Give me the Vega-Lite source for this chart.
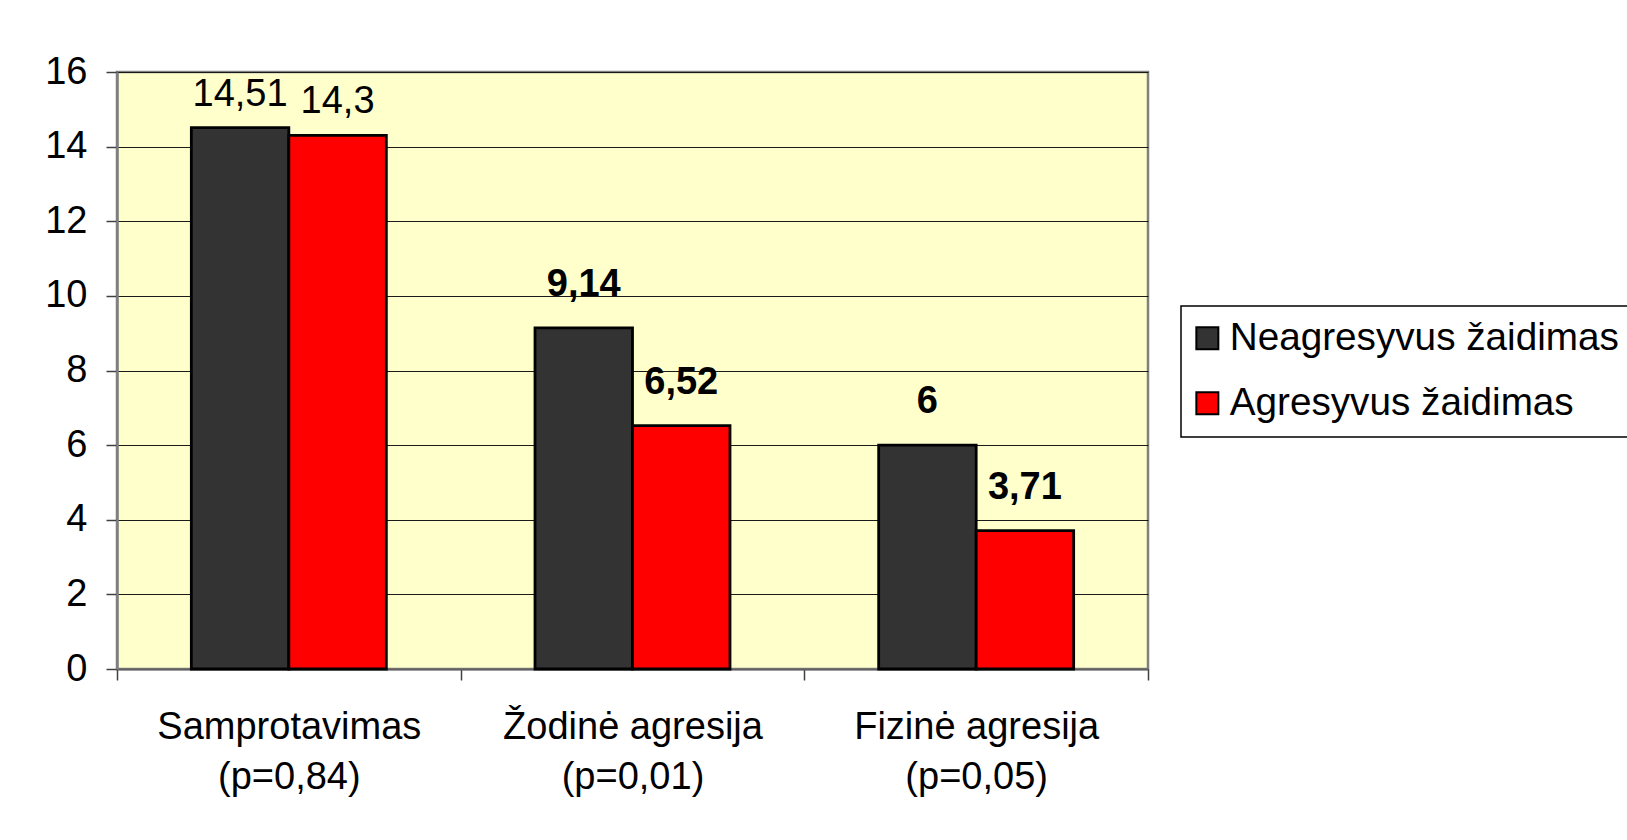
{
  "$schema": "https://vega.github.io/schema/vega-lite/v6.json",
  "width": 1031,
  "height": 597,
  "autosize": "none",
  "padding": {"left": 117, "top": 72, "right": 479, "bottom": 171},
  "background": "white",
  "data": {
    "values": [
      {"category": "Samprotavimas|(p=0,84)", "group": "Neagresyvus žaidimas", "value": 14.51, "label": "14,51"},
      {"category": "Samprotavimas|(p=0,84)", "group": "Agresyvus žaidimas", "value": 14.3, "label": "14,3"},
      {"category": "Žodinė agresija|(p=0,01)", "group": "Neagresyvus žaidimas", "value": 9.14, "label": "9,14"},
      {"category": "Žodinė agresija|(p=0,01)", "group": "Agresyvus žaidimas", "value": 6.52, "label": "6,52"},
      {"category": "Fizinė agresija|(p=0,05)", "group": "Neagresyvus žaidimas", "value": 6, "label": "6"},
      {"category": "Fizinė agresija|(p=0,05)", "group": "Agresyvus žaidimas", "value": 3.71, "label": "3,71"}
    ]
  },
  "encoding": {
    "x": {
      "field": "category",
      "type": "nominal",
      "sort": ["Samprotavimas|(p=0,84)", "Žodinė agresija|(p=0,01)", "Fizinė agresija|(p=0,05)"],
      "scale": {"paddingInner": 0, "paddingOuter": 0},
      "axis": {
        "title": null,
        "labelAngle": 0,
        "labelExpr": "split(datum.label, '|')",
        "labelLimit": 0,
        "labelLineHeight": 50,
        "labelPadding": 28,
        "tickSize": 11,
        "tickBand": "extent",
        "tickColor": "#404040",
        "tickWidth": 1.5,
        "domainColor": "#606060",
        "domainWidth": 2,
        "grid": false,
        "labelFontSize": 38
      }
    },
    "xOffset": {
      "field": "group",
      "type": "nominal",
      "sort": ["Neagresyvus žaidimas", "Agresyvus žaidimas"],
      "scale": {"paddingInner": 0, "paddingOuter": 0.7625}
    },
    "y": {
      "field": "value",
      "type": "quantitative",
      "scale": {"domain": [0, 16], "nice": false, "zero": true},
      "axis": {
        "title": null,
        "values": [0, 2, 4, 6, 8, 10, 12, 14, 16],
        "labelPadding": 19,
        "tickSize": 11,
        "tickColor": "#404040",
        "tickWidth": 1.5,
        "domainColor": "#808080",
        "domainWidth": 2.5,
        "grid": true,
        "gridColor": "#1a1a1a",
        "gridWidth": 1.2,
        "gridOpacity": 1,
        "labelFontSize": 38
      }
    }
  },
  "layer": [
    {
      "mark": {"type": "bar", "stroke": "black", "strokeWidth": 2.8, "opacity": 1},
      "encoding": {
        "color": {
          "field": "group",
          "type": "nominal",
          "sort": ["Neagresyvus žaidimas", "Agresyvus žaidimas"],
          "scale": {"domain": ["Neagresyvus žaidimas", "Agresyvus žaidimas"], "range": ["#333333", "#ff0000"]},
          "legend": {
            "title": null,
            "orient": "none",
            "legendX": 1064,
            "legendY": 234,
            "strokeColor": "black",
            "fillColor": "white",
            "padding": 13,
            "symbolType": "square",
            "symbolSize": 484,
            "symbolOffset": -6,
            "symbolStrokeColor": "black",
            "symbolStrokeWidth": 2,
            "symbolOpacity": 1,
            "labelFontSize": 38.7,
            "labelOffset": 3,
            "labelLimit": 1000,
            "labelColor": "black",
            "rowPadding": 25
          }
        }
      }
    },
    {
      "transform": [{"filter": "datum.category == 'Samprotavimas|(p=0,84)'"}],
      "mark": {"type": "text", "fontSize": 38, "baseline": "alphabetic", "align": "center", "dy": -22, "color": "black"},
      "encoding": {"text": {"field": "label"}}
    },
    {
      "transform": [{"filter": "datum.category != 'Samprotavimas|(p=0,84)'"}],
      "mark": {"type": "text", "fontSize": 38, "fontWeight": "bold", "baseline": "alphabetic", "align": "center", "dy": -32, "color": "black"},
      "encoding": {"text": {"field": "label"}}
    }
  ],
  "config": {
    "font": "Liberation Sans",
    "view": {"fill": "#ffffcc", "stroke": "#808080", "strokeWidth": 2.5},
    "axis": {"labelColor": "black", "labelFont": "Liberation Sans"},
    "legend": {"labelFont": "Liberation Sans", "strokeWidth": 1.5},
    "text": {"font": "Liberation Sans"}
  }
}
